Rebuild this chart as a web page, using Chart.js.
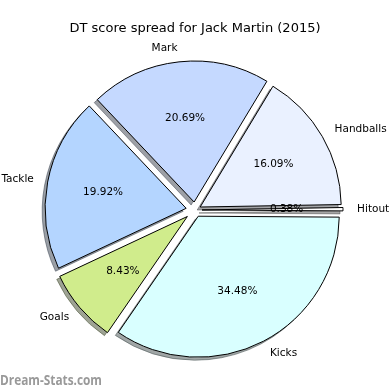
<!DOCTYPE html>
<html><head><meta charset="utf-8">
<script src="https://cdn.jsdelivr.net/npm/chart.js@4/dist/chart.umd.min.js"></script>
<style>html,body{margin:0;padding:0;background:#fff}#wrap{width:390px;height:390px}</style>
</head><body><div id="wrap"><canvas id="c" width="390" height="390"></canvas></div>
<script>
// Order: clockwise from 3 o'clock (same as the reference, read counter-clockwise reversed)
const categories = ['Hitout', 'Kicks', 'Goals', 'Tackle', 'Mark', 'Handballs'];
const dtPoints = [1, 90, 22, 52, 54, 42];
const sliceColors = ['#ffffff', '#d9ffff', '#d0ec8c', '#b4d5ff', '#c5d9ff', '#eaf1ff'];
const explodePx = [7, 7, 10, 9, 8, 6];
const titleText = 'DT score spread for Jack Martin (2015)';
const watermarkText = 'Dream-Stats.com';

const ArcEl = Chart.ArcElement || (Chart.elements && Chart.elements.ArcElement);
const baseArcDraw = ArcEl.prototype.draw;
ArcEl.prototype.draw = function (ctx, area) {
  const d = this.$explode || 0;
  const mid = (this.startAngle + this.endAngle) / 2;
  ctx.save();
  ctx.translate(Math.cos(mid) * d, Math.sin(mid) * d);
  baseArcDraw.call(this, ctx, area);
  ctx.restore();
};

function hexToRgb(h) {
  const n = parseInt(h.slice(1), 16);
  return [(n >> 16) & 255, (n >> 8) & 255, n & 255];
}

const pieExtras = {
  id: 'pieExtras',
  afterDatasetUpdate(chart, args) {
    args.meta.data.forEach((el, i) => { el.$explode = explodePx[i]; });
  },
  beforeDatasetsDraw(chart) {
    const ctx = chart.ctx;
    const meta = chart.getDatasetMeta(0);
    meta.data.forEach((el, i) => {
      const mid = (el.startAngle + el.endAngle) / 2;
      const d = explodePx[i];
      const cx = el.x + Math.cos(mid) * d - 3;
      const cy = el.y + Math.sin(mid) * d + 3;
      const [r, g, b] = hexToRgb(sliceColors[i]);
      const col = `rgba(${Math.round(r * 0.3)},${Math.round(g * 0.3)},${Math.round(b * 0.3)},0.5)`;
      ctx.save();
      ctx.beginPath();
      ctx.moveTo(cx, cy);
      ctx.arc(cx, cy, el.outerRadius, el.startAngle, el.endAngle);
      ctx.closePath();
      ctx.fillStyle = col;
      ctx.strokeStyle = col;
      ctx.lineWidth = 1;
      ctx.fill();
      ctx.stroke();
      ctx.restore();
    });
  },
  afterDatasetsDraw(chart) {
    const ctx = chart.ctx;
    const meta = chart.getDatasetMeta(0);
    const data = chart.data.datasets[0].data;
    const total = data.reduce((a, b) => a + b, 0);
    ctx.save();
    ctx.fillStyle = '#000';
    ctx.font = '10.5px "DejaVu Sans"';
    ctx.textBaseline = 'middle';
    meta.data.forEach((el, i) => {
      const mid = (el.startAngle + el.endAngle) / 2;
      const d = explodePx[i];
      const ex = el.x + Math.cos(mid) * d;
      const ey = el.y + Math.sin(mid) * d;
      const R = el.outerRadius;
      const lx = ex + 1.1 * R * Math.cos(mid);
      const ly = ey + 1.1 * R * Math.sin(mid);
      ctx.textAlign = lx > el.x ? 'left' : 'right';
      ctx.fillText(chart.data.labels[i], lx, ly);
      const px = ex + 0.6 * R * Math.cos(mid);
      const py = ey + 0.6 * R * Math.sin(mid);
      ctx.textAlign = 'center';
      ctx.fillText((data[i] / total * 100).toFixed(2) + '%', px, py);
    });
    ctx.restore();
  },
  afterDraw(chart) {
    const ctx = chart.ctx;
    ctx.save();
    ctx.font = 'bold 14px "Open Sans"';
    ctx.fillStyle = '#999999';
    ctx.textBaseline = 'alphabetic';
    ctx.textAlign = 'left';
    const w = ctx.measureText(watermarkText).width;
    ctx.translate(0, 385);
    ctx.scale(102 / w, 1);
    ctx.fillText(watermarkText, 0, 0);
    ctx.restore();
  }
};

new Chart(document.getElementById('c'), {
  type: 'pie',
  data: {
    labels: categories,
    datasets: [{
      data: dtPoints,
      backgroundColor: sliceColors,
      borderColor: '#000',
      borderWidth: 1,
      clip: false
    }]
  },
  options: {
    responsive: false,
    animation: false,
    devicePixelRatio: 1,
    rotation: 89,
    radius: 141,
    layout: { padding: { top: 0, left: 0, right: 0, bottom: 6.6 } },
    plugins: {
      legend: { display: false },
      tooltip: { enabled: false },
      title: {
        display: true,
        text: titleText,
        color: '#000',
        font: { family: '"DejaVu Sans"', size: 13, weight: 'normal' },
        padding: { top: 21, bottom: 0 }
      }
    }
  },
  plugins: [pieExtras]
});
</script>
</body></html>
